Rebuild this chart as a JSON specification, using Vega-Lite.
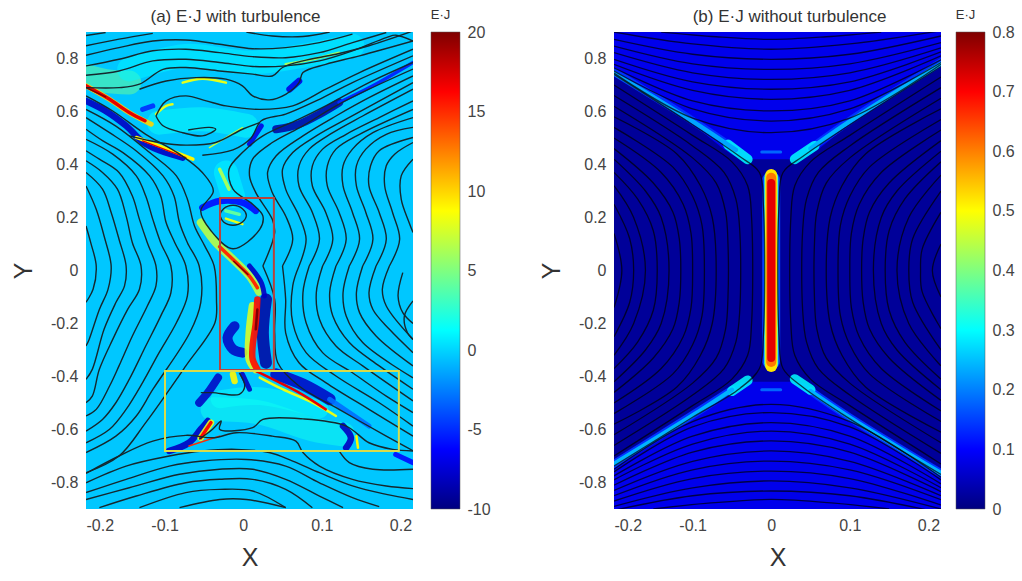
{"$schema":"https://vega.github.io/schema/vega-lite/v6.json","background":"white","padding":{"left":11,"top":8,"right":0,"bottom":0},"config":{"font":"Liberation Sans","view":{"stroke":null}},"resolve":{"scale":{"color":"independent"}},"spacing":48,
"datasets":{
"abg":[{"x":-0.2,"x2":0.216,"y":-0.9,"y2":0.9,"v":-0.4}],
"bbg":[{"x":-0.2,"x2":0.216,"y":-0.9,"y2":0.9,"v":0.02}],
"bareas":[{"r":"t","v":0.085,"x":-0.2,"y":0.74,"y2":0.9},{"r":"t","v":0.085,"x":-0.1,"y":0.55,"y2":0.9},{"r":"t","v":0.085,"x":-0.03,"y":0.42,"y2":0.9},{"r":"t","v":0.085,"x":0.03,"y":0.42,"y2":0.9},{"r":"t","v":0.085,"x":0.1,"y":0.55,"y2":0.9},{"r":"t","v":0.085,"x":0.216,"y":0.77,"y2":0.9},{"r":"b","v":0.085,"x":-0.2,"y":-0.74,"y2":-0.9},{"r":"b","v":0.085,"x":-0.1,"y":-0.55,"y2":-0.9},{"r":"b","v":0.085,"x":-0.03,"y":-0.42,"y2":-0.9},{"r":"b","v":0.085,"x":0.03,"y":-0.42,"y2":-0.9},{"r":"b","v":0.085,"x":0.1,"y":-0.55,"y2":-0.9},{"r":"b","v":0.085,"x":0.216,"y":-0.77,"y2":-0.9}],
"boxes":[{"c":"red","x":-0.0295,"x2":0.039,"y":-0.375,"y2":0.274},{"c":"yellow","x":-0.0995,"x2":0.198,"y":-0.681,"y2":-0.379}],
"aglow":[
{"s":1,"w":12,"v":4.5,"x":-0.2,"y":0.734},{"s":1,"w":12,"v":4.5,"x":-0.175,"y":0.715},{"s":1,"w":12,"v":4.5,"x":-0.145,"y":0.709},
{"s":2,"w":12,"v":1.5,"x":-0.107,"y":0.558},{"s":2,"w":12,"v":1.5,"x":-0.052,"y":0.571},{"s":2,"w":12,"v":1.5,"x":0.004,"y":0.546},
{"s":3,"w":12,"v":1.8,"x":-0.039,"y":-0.524},{"s":3,"w":12,"v":1.8,"x":0.021,"y":-0.536},{"s":3,"w":12,"v":1.8,"x":0.088,"y":-0.599},{"s":3,"w":12,"v":1.8,"x":0.127,"y":-0.618},
{"s":4,"w":11,"v":1.5,"x":-0.03,"y":-0.486},{"s":4,"w":11,"v":1.5,"x":0.021,"y":-0.474},{"s":4,"w":11,"v":1.5,"x":0.097,"y":-0.524},
{"s":5,"w":12,"v":1,"x":-0.145,"y":0.759},{"s":5,"w":12,"v":1,"x":-0.073,"y":0.81},{"s":5,"w":12,"v":1,"x":0.012,"y":0.785},{"s":5,"w":12,"v":1,"x":0.139,"y":0.848},
{"s":6,"w":12,"v":1.2,"x":-0.022,"y":0.37},{"s":6,"w":12,"v":1.2,"x":-0.013,"y":0.281},
{"s":7,"w":5,"v":-8,"x":-0.2,"y":0.64},{"s":7,"w":5,"v":-8,"x":-0.175,"y":0.602},{"s":7,"w":5,"v":-8,"x":-0.149,"y":0.546},{"s":7,"w":5,"v":-8,"x":-0.124,"y":0.477},{"s":7,"w":5,"v":-8,"x":-0.077,"y":0.426},
{"s":8,"w":6,"v":-9,"x":0.042,"y":0.533},{"s":8,"w":6,"v":-9,"x":0.071,"y":0.552},{"s":8,"w":6,"v":-9,"x":0.097,"y":0.59},{"s":8,"w":6,"v":-9,"x":0.122,"y":0.634},
{"s":9,"w":3,"v":-5,"x":0.122,"y":0.634},{"s":9,"w":3,"v":-5,"x":0.165,"y":0.697},{"s":9,"w":3,"v":-5,"x":0.216,"y":0.785},
{"s":10,"w":5,"v":-7,"x":0.059,"y":0.684},{"s":10,"w":5,"v":-7,"x":0.071,"y":0.715},
{"s":11,"w":4,"v":-7,"x":0.008,"y":0.477},{"s":11,"w":4,"v":-7,"x":0.023,"y":0.546},
{"s":12,"w":4,"v":-5,"x":-0.128,"y":0.608},{"s":12,"w":4,"v":-5,"x":-0.115,"y":0.621},
{"s":13,"w":5,"v":-6,"x":-0.052,"y":0.237},{"s":13,"w":5,"v":-6,"x":-0.03,"y":0.262},{"s":13,"w":5,"v":-6,"x":-0.001,"y":0.256},{"s":13,"w":5,"v":-6,"x":0.016,"y":0.225},
{"s":14,"w":4,"v":-8,"x":0.008,"y":0.017},{"s":14,"w":4,"v":-8,"x":0.023,"y":-0.046},{"s":14,"w":4,"v":-8,"x":0.027,"y":-0.096},
{"s":15,"w":6,"v":7,"x":-0.054,"y":0.181},{"s":15,"w":6,"v":7,"x":-0.035,"y":0.105},{"s":15,"w":6,"v":7,"x":-0.013,"y":0.042},{"s":15,"w":6,"v":7,"x":0.008,"y":-0.021},{"s":15,"w":6,"v":7,"x":0.02,"y":-0.08},
{"s":16,"w":3,"v":15,"x":-0.03,"y":0.09},{"s":16,"w":3,"v":15,"x":-0.009,"y":0.03},{"s":16,"w":3,"v":15,"x":0.008,"y":-0.021},{"s":16,"w":3,"v":15,"x":0.018,"y":-0.065},
{"s":17,"w":1,"v":20,"x":-0.012,"y":0.035},{"s":17,"w":1,"v":20,"x":0.006,"y":-0.015},
{"s":18,"w":8,"v":-9,"x":0.029,"y":-0.109},{"s":18,"w":8,"v":-9,"x":0.025,"y":-0.235},{"s":18,"w":8,"v":-9,"x":0.029,"y":-0.348},
{"s":19,"w":6,"v":8,"x":0.012,"y":-0.134},{"s":19,"w":6,"v":8,"x":0.008,"y":-0.235},{"s":19,"w":6,"v":8,"x":0.008,"y":-0.335},{"s":19,"w":6,"v":8,"x":0.016,"y":-0.373},
{"s":20,"w":5,"v":16,"x":0.018,"y":-0.109},{"s":20,"w":5,"v":16,"x":0.016,"y":-0.197},{"s":20,"w":5,"v":16,"x":0.012,"y":-0.285},{"s":20,"w":5,"v":16,"x":0.012,"y":-0.335},{"s":20,"w":5,"v":16,"x":0.018,"y":-0.373},
{"s":21,"w":2,"v":20,"x":0.018,"y":-0.147},{"s":21,"w":2,"v":20,"x":0.016,"y":-0.222},
{"s":22,"w":7,"v":-8,"x":-0.011,"y":-0.21},{"s":22,"w":7,"v":-8,"x":-0.02,"y":-0.254},{"s":22,"w":7,"v":-8,"x":-0.013,"y":-0.297},{"s":22,"w":7,"v":-8,"x":-0.001,"y":-0.31},
{"s":23,"w":8,"v":-8,"x":0.042,"y":-0.392},{"s":23,"w":8,"v":-8,"x":0.076,"y":-0.43},{"s":23,"w":8,"v":-8,"x":0.11,"y":-0.486},
{"s":24,"w":4,"v":-3,"x":0.11,"y":-0.486},{"s":24,"w":4,"v":-3,"x":0.16,"y":-0.587},
{"s":25,"w":2,"v":8,"x":0.021,"y":-0.404},{"s":25,"w":2,"v":8,"x":0.05,"y":-0.448},{"s":25,"w":2,"v":8,"x":0.088,"y":-0.499},{"s":25,"w":2,"v":8,"x":0.118,"y":-0.549},
{"s":26,"w":2,"v":17,"x":0.016,"y":-0.379},{"s":26,"w":2,"v":17,"x":0.042,"y":-0.417},{"s":26,"w":2,"v":17,"x":0.071,"y":-0.461},{"s":26,"w":2,"v":17,"x":0.105,"y":-0.524},
{"s":27,"w":6,"v":-8,"x":-0.056,"y":-0.499},{"s":27,"w":6,"v":-8,"x":-0.045,"y":-0.461},{"s":27,"w":6,"v":-8,"x":-0.032,"y":-0.404},
{"s":28,"w":5,"v":9,"x":-0.013,"y":-0.392},{"s":28,"w":5,"v":9,"x":-0.011,"y":-0.417},
{"s":29,"w":4,"v":-8,"x":-0.001,"y":-0.392},{"s":29,"w":4,"v":-8,"x":0.008,"y":-0.448},
{"s":30,"w":5,"v":-8,"x":-0.094,"y":-0.681},{"s":30,"w":5,"v":-8,"x":-0.069,"y":-0.65},{"s":30,"w":5,"v":-8,"x":-0.054,"y":-0.599},{"s":30,"w":5,"v":-8,"x":-0.045,"y":-0.568},
{"s":31,"w":5,"v":8,"x":-0.054,"y":-0.631},{"s":31,"w":5,"v":8,"x":-0.041,"y":-0.574},
{"s":32,"w":3,"v":16,"x":-0.054,"y":-0.631},{"s":32,"w":3,"v":16,"x":-0.041,"y":-0.574},
{"s":33,"w":1,"v":15,"x":-0.069,"y":-0.662},{"s":33,"w":1,"v":15,"x":-0.03,"y":-0.625},
{"s":34,"w":5,"v":-8,"x":0.127,"y":-0.587},{"s":34,"w":5,"v":-8,"x":0.137,"y":-0.631},{"s":34,"w":5,"v":-8,"x":0.131,"y":-0.669},
{"s":35,"w":2,"v":9,"x":0.144,"y":-0.625},{"s":35,"w":2,"v":9,"x":0.146,"y":-0.669},
{"s":36,"w":4,"v":-6,"x":0.216,"y":-0.725},{"s":36,"w":4,"v":-6,"x":0.194,"y":-0.694},
{"s":37,"w":2,"v":8,"x":-0.077,"y":0.709},{"s":37,"w":2,"v":8,"x":-0.052,"y":0.724},{"s":37,"w":2,"v":8,"x":-0.022,"y":0.709},
{"s":38,"w":2,"v":6,"x":0.054,"y":0.778},{"s":38,"w":2,"v":6,"x":0.088,"y":0.797},{"s":38,"w":2,"v":6,"x":0.122,"y":0.822},
{"s":39,"w":3,"v":9,"x":-0.136,"y":0.502},{"s":39,"w":3,"v":9,"x":-0.107,"y":0.47},{"s":39,"w":3,"v":9,"x":-0.064,"y":0.42},
{"s":40,"w":1,"v":17,"x":-0.128,"y":0.489},{"s":40,"w":1,"v":17,"x":-0.073,"y":0.426},
{"s":41,"w":4,"v":10,"x":-0.2,"y":0.697},{"s":41,"w":4,"v":10,"x":-0.17,"y":0.646},{"s":41,"w":4,"v":10,"x":-0.145,"y":0.596},{"s":41,"w":4,"v":10,"x":-0.117,"y":0.552},
{"s":42,"w":3,"v":17,"x":-0.2,"y":0.697},{"s":42,"w":3,"v":17,"x":-0.17,"y":0.646},{"s":42,"w":3,"v":17,"x":-0.145,"y":0.596},{"s":42,"w":3,"v":17,"x":-0.125,"y":0.565},
{"s":43,"w":1,"v":20,"x":-0.2,"y":0.69},{"s":43,"w":1,"v":20,"x":-0.175,"y":0.655},
{"s":44,"w":2,"v":8,"x":-0.111,"y":0.59},{"s":44,"w":2,"v":8,"x":-0.098,"y":0.621},{"s":44,"w":2,"v":8,"x":-0.09,"y":0.627},
{"s":45,"w":1,"v":7,"x":-0.043,"y":0.464},{"s":45,"w":1,"v":7,"x":-0.001,"y":0.539},
{"s":46,"w":3,"v":6,"x":-0.03,"y":0.382},{"s":46,"w":3,"v":6,"x":-0.018,"y":0.307},
{"s":47,"w":3,"v":4,"x":-0.022,"y":0.225},{"s":47,"w":3,"v":4,"x":-0.005,"y":0.212},
{"s":48,"w":2,"v":8,"x":-0.022,"y":0.196},{"s":48,"w":2,"v":8,"x":-0.001,"y":0.175}],
"bglow":[
{"s":1,"w":11,"v":0.15,"x":0,"y":0.34},{"s":1,"w":11,"v":0.15,"x":0,"y":-0.34},
{"s":2,"w":9,"v":0.35,"x":0,"y":0.35},{"s":2,"w":9,"v":0.35,"x":0,"y":-0.35},
{"s":3,"w":8,"v":0.52,"x":0,"y":0.36},{"s":3,"w":8,"v":0.52,"x":0,"y":-0.36},
{"s":4,"w":7,"v":0.62,"x":0,"y":0.35},{"s":4,"w":7,"v":0.62,"x":0,"y":-0.345},
{"s":5,"w":6,"v":0.72,"x":0,"y":0.33},{"s":5,"w":6,"v":0.72,"x":0,"y":-0.33},
{"s":6,"w":5,"v":0.14,"x":-0.2,"y":0.75},{"s":6,"w":5,"v":0.14,"x":-0.1,"y":0.565},{"s":6,"w":5,"v":0.14,"x":-0.045,"y":0.455},
{"s":7,"w":3,"v":0.23,"x":-0.2,"y":0.745},{"s":7,"w":3,"v":0.23,"x":-0.1,"y":0.563},{"s":7,"w":3,"v":0.23,"x":-0.045,"y":0.455},
{"s":8,"w":5,"v":0.14,"x":0.216,"y":0.785},{"s":8,"w":5,"v":0.14,"x":0.1,"y":0.565},{"s":8,"w":5,"v":0.14,"x":0.05,"y":0.46},
{"s":9,"w":3,"v":0.24,"x":0.216,"y":0.78},{"s":9,"w":3,"v":0.24,"x":0.1,"y":0.563},{"s":9,"w":3,"v":0.24,"x":0.05,"y":0.46},
{"s":10,"w":7,"v":0.3,"x":-0.055,"y":0.475},{"s":10,"w":7,"v":0.3,"x":-0.03,"y":0.42},
{"s":11,"w":7,"v":0.3,"x":0.055,"y":0.47},{"s":11,"w":7,"v":0.3,"x":0.03,"y":0.42},
{"s":12,"w":5,"v":0.14,"x":-0.2,"y":-0.73},{"s":12,"w":5,"v":0.14,"x":-0.1,"y":-0.545},{"s":12,"w":5,"v":0.14,"x":-0.05,"y":-0.45},
{"s":13,"w":3,"v":0.24,"x":-0.2,"y":-0.73},{"s":13,"w":3,"v":0.24,"x":-0.1,"y":-0.547},{"s":13,"w":3,"v":0.24,"x":-0.05,"y":-0.45},
{"s":14,"w":5,"v":0.14,"x":0.216,"y":-0.765},{"s":14,"w":5,"v":0.14,"x":0.1,"y":-0.555},{"s":14,"w":5,"v":0.14,"x":0.05,"y":-0.455},
{"s":15,"w":3,"v":0.24,"x":0.216,"y":-0.765},{"s":15,"w":3,"v":0.24,"x":0.1,"y":-0.555},{"s":15,"w":3,"v":0.24,"x":0.05,"y":-0.455},
{"s":16,"w":7,"v":0.3,"x":-0.05,"y":-0.455},{"s":16,"w":7,"v":0.3,"x":-0.03,"y":-0.415},
{"s":17,"w":7,"v":0.3,"x":0.05,"y":-0.45},{"s":17,"w":7,"v":0.3,"x":0.03,"y":-0.41},
{"s":18,"w":2,"v":0.18,"x":-0.012,"y":0.447},{"s":18,"w":2,"v":0.18,"x":0.012,"y":0.447},
{"s":19,"w":2,"v":0.18,"x":-0.012,"y":-0.45},{"s":19,"w":2,"v":0.18,"x":0.012,"y":-0.45}],
"alines":[
{"l":1,"x":-0.2,"y":0.887},{"l":1,"x":-0.175,"y":0.898},
{"l":2,"x":-0.2,"y":0.848},{"l":2,"x":-0.158,"y":0.873},{"l":2,"x":-0.115,"y":0.895},
{"l":3,"x":-0.2,"y":0.812},{"l":3,"x":-0.158,"y":0.841},{"l":3,"x":-0.115,"y":0.866},{"l":3,"x":-0.073,"y":0.87},{"l":3,"x":-0.03,"y":0.854},{"l":3,"x":0.012,"y":0.837},{"l":3,"x":0.054,"y":0.841},{"l":3,"x":0.097,"y":0.86},{"l":3,"x":0.139,"y":0.892},
{"l":4,"x":-0.2,"y":0.772},{"l":4,"x":-0.158,"y":0.797},{"l":4,"x":-0.115,"y":0.829},{"l":4,"x":-0.073,"y":0.835},{"l":4,"x":-0.03,"y":0.822},{"l":4,"x":0.012,"y":0.807},{"l":4,"x":0.054,"y":0.803},{"l":4,"x":0.097,"y":0.822},{"l":4,"x":0.139,"y":0.86},{"l":4,"x":0.182,"y":0.898},
{"l":5,"x":-0.2,"y":0.737},{"l":5,"x":-0.158,"y":0.753},{"l":5,"x":-0.115,"y":0.791},{"l":5,"x":-0.073,"y":0.797},{"l":5,"x":-0.03,"y":0.785},{"l":5,"x":0.012,"y":0.77},{"l":5,"x":0.054,"y":0.772},{"l":5,"x":0.097,"y":0.791},{"l":5,"x":0.139,"y":0.829},{"l":5,"x":0.182,"y":0.879},{"l":5,"x":0.194,"y":0.888},{"l":5,"x":0.216,"y":0.866},
{"l":6,"x":-0.2,"y":0.69},{"l":6,"x":-0.158,"y":0.69},{"l":6,"x":-0.132,"y":0.703},{"l":6,"x":-0.102,"y":0.759},{"l":6,"x":-0.073,"y":0.766},{"l":6,"x":-0.03,"y":0.753},{"l":6,"x":0.012,"y":0.741},{"l":6,"x":0.037,"y":0.734},{"l":6,"x":0.05,"y":0.766},{"l":6,"x":0.076,"y":0.791},{"l":6,"x":0.118,"y":0.816},{"l":6,"x":0.16,"y":0.848},{"l":6,"x":0.216,"y":0.904},
{"l":7,"x":0.004,"y":0.9},{"l":7,"x":0.037,"y":0.885},{"l":7,"x":0.076,"y":0.883},{"l":7,"x":0.11,"y":0.9},
{"l":8,"x":-0.132,"y":0.684},{"l":8,"x":-0.098,"y":0.715},{"l":8,"x":-0.06,"y":0.728},{"l":8,"x":-0.022,"y":0.722},{"l":8,"x":-0.001,"y":0.697},{"l":8,"x":0.012,"y":0.659},{"l":8,"x":0.033,"y":0.644},{"l":8,"x":0.054,"y":0.665},{"l":8,"x":0.071,"y":0.709},{"l":8,"x":0.076,"y":0.747},{"l":8,"x":0.105,"y":0.778},{"l":8,"x":0.148,"y":0.81},{"l":8,"x":0.216,"y":0.866},
{"l":9,"x":-0.111,"y":0.583},{"l":9,"x":-0.098,"y":0.64},{"l":9,"x":-0.073,"y":0.659},{"l":9,"x":-0.047,"y":0.64},{"l":9,"x":-0.022,"y":0.621},{"l":9,"x":0.021,"y":0.608},{"l":9,"x":0.063,"y":0.621},{"l":9,"x":0.105,"y":0.684},{"l":9,"x":0.148,"y":0.747},{"l":9,"x":0.216,"y":0.835},
{"l":10,"x":-0.111,"y":0.583},{"l":10,"x":-0.102,"y":0.546},{"l":10,"x":-0.077,"y":0.52},{"l":10,"x":-0.052,"y":0.508},{"l":10,"x":-0.035,"y":0.533},{"l":10,"x":-0.043,"y":0.54},{"l":10,"x":-0.07,"y":0.53},
{"l":11,"x":-0.052,"y":0.435},{"l":11,"x":-0.013,"y":0.455},{"l":11,"x":0.01,"y":0.5},{"l":11,"x":0.023,"y":0.565},{"l":11,"x":0.054,"y":0.59},{"l":11,"x":0.097,"y":0.646},{"l":11,"x":0.139,"y":0.709},{"l":11,"x":0.216,"y":0.81},
{"l":12,"x":-0.145,"y":0.508},{"l":12,"x":-0.107,"y":0.483},{"l":12,"x":-0.073,"y":0.473},{"l":12,"x":-0.035,"y":0.483},{"l":12,"x":-0.001,"y":0.533},{"l":12,"x":0.021,"y":0.558},
{"l":13,"x":-0.2,"y":0.659},{"l":13,"x":-0.166,"y":0.602},{"l":13,"x":-0.124,"y":0.514},{"l":13,"x":-0.081,"y":0.439},{"l":13,"x":-0.052,"y":0.37},{"l":13,"x":-0.038,"y":0.3},{"l":13,"x":-0.054,"y":0.225},{"l":13,"x":-0.041,"y":0.15},{"l":13,"x":-0.013,"y":0.082},{"l":13,"x":0.021,"y":0.155},{"l":13,"x":0.025,"y":0.206},{"l":13,"x":0.012,"y":0.25},{"l":13,"x":-0.013,"y":0.307},{"l":13,"x":-0.018,"y":0.382},{"l":13,"x":-0.001,"y":0.445},{"l":13,"x":0.025,"y":0.508},{"l":13,"x":0.071,"y":0.571},{"l":13,"x":0.105,"y":0.621},{"l":13,"x":0.16,"y":0.709},{"l":13,"x":0.216,"y":0.785},
{"l":14,"x":-0.03,"y":0.209},{"l":14,"x":-0.025,"y":0.233},{"l":14,"x":-0.013,"y":0.246},{"l":14,"x":-0.001,"y":0.233},{"l":14,"x":0.004,"y":0.209},{"l":14,"x":-0.001,"y":0.183},{"l":14,"x":-0.013,"y":0.171},{"l":14,"x":-0.025,"y":0.183},{"l":14,"x":-0.03,"y":0.209},
{"l":15,"x":-0.2,"y":0.608},{"l":15,"x":-0.162,"y":0.545},{"l":15,"x":-0.119,"y":0.445},{"l":15,"x":-0.085,"y":0.357},{"l":15,"x":-0.071,"y":0.269},{"l":15,"x":-0.062,"y":0.168},{"l":15,"x":-0.049,"y":0.093},{"l":15,"x":-0.037,"y":0.017},{"l":15,"x":-0.034,"y":-0.109},{"l":15,"x":-0.036,"y":-0.197},{"l":15,"x":-0.073,"y":-0.36},{"l":15,"x":-0.124,"y":-0.574},{"l":15,"x":-0.158,"y":-0.7},{"l":15,"x":-0.2,"y":-0.763},
{"l":16,"x":-0.2,"y":0.577},{"l":16,"x":-0.17,"y":0.52},{"l":16,"x":-0.136,"y":0.451},{"l":16,"x":-0.102,"y":0.357},{"l":16,"x":-0.088,"y":0.281},{"l":16,"x":-0.081,"y":0.18},{"l":16,"x":-0.071,"y":0.105},{"l":16,"x":-0.056,"y":0.017},{"l":16,"x":-0.054,"y":-0.121},{"l":16,"x":-0.068,"y":-0.235},{"l":16,"x":-0.115,"y":-0.449},{"l":16,"x":-0.136,"y":-0.549},{"l":16,"x":-0.162,"y":-0.625},{"l":16,"x":-0.2,"y":-0.687},
{"l":17,"x":-0.2,"y":0.533},{"l":17,"x":-0.179,"y":0.49},{"l":17,"x":-0.153,"y":0.445},{"l":17,"x":-0.119,"y":0.357},{"l":17,"x":-0.105,"y":0.281},{"l":17,"x":-0.098,"y":0.18},{"l":17,"x":-0.087,"y":0.105},{"l":17,"x":-0.073,"y":0.017},{"l":17,"x":-0.071,"y":-0.096},{"l":17,"x":-0.085,"y":-0.197},{"l":17,"x":-0.107,"y":-0.31},{"l":17,"x":-0.128,"y":-0.423},{"l":17,"x":-0.149,"y":-0.524},{"l":17,"x":-0.17,"y":-0.599},{"l":17,"x":-0.2,"y":-0.65},
{"l":18,"x":-0.2,"y":0.495},{"l":18,"x":-0.166,"y":0.439},{"l":18,"x":-0.136,"y":0.357},{"l":18,"x":-0.124,"y":0.281},{"l":18,"x":-0.115,"y":0.193},{"l":18,"x":-0.105,"y":0.105},{"l":18,"x":-0.092,"y":0.017},{"l":18,"x":-0.092,"y":-0.084},{"l":18,"x":-0.105,"y":-0.172},{"l":18,"x":-0.124,"y":-0.285},{"l":18,"x":-0.145,"y":-0.411},{"l":18,"x":-0.162,"y":-0.499},{"l":18,"x":-0.179,"y":-0.562},{"l":18,"x":-0.2,"y":-0.606},
{"l":19,"x":-0.2,"y":0.452},{"l":19,"x":-0.183,"y":0.42},{"l":19,"x":-0.158,"y":0.37},{"l":19,"x":-0.141,"y":0.281},{"l":19,"x":-0.132,"y":0.193},{"l":19,"x":-0.122,"y":0.105},{"l":19,"x":-0.111,"y":0.017},{"l":19,"x":-0.111,"y":-0.058},{"l":19,"x":-0.122,"y":-0.134},{"l":19,"x":-0.141,"y":-0.247},{"l":19,"x":-0.158,"y":-0.36},{"l":19,"x":-0.17,"y":-0.436},{"l":19,"x":-0.187,"y":-0.524},{"l":19,"x":-0.2,"y":-0.549},
{"l":20,"x":-0.2,"y":0.414},{"l":20,"x":-0.179,"y":0.37},{"l":20,"x":-0.16,"y":0.307},{"l":20,"x":-0.149,"y":0.206},{"l":20,"x":-0.141,"y":0.105},{"l":20,"x":-0.13,"y":0.017},{"l":20,"x":-0.132,"y":-0.071},{"l":20,"x":-0.147,"y":-0.147},{"l":20,"x":-0.166,"y":-0.26},{"l":20,"x":-0.183,"y":-0.373},{"l":20,"x":-0.192,"y":-0.474},{"l":20,"x":-0.2,"y":-0.499},
{"l":21,"x":-0.2,"y":0.37},{"l":21,"x":-0.179,"y":0.307},{"l":21,"x":-0.168,"y":0.219},{"l":21,"x":-0.158,"y":0.118},{"l":21,"x":-0.149,"y":0.017},{"l":21,"x":-0.151,"y":-0.058},{"l":21,"x":-0.162,"y":-0.121},{"l":21,"x":-0.177,"y":-0.222},{"l":21,"x":-0.192,"y":-0.373},{"l":21,"x":-0.2,"y":-0.411},
{"l":22,"x":-0.2,"y":0.319},{"l":22,"x":-0.187,"y":0.231},{"l":22,"x":-0.177,"y":0.13},{"l":22,"x":-0.168,"y":0.017},{"l":22,"x":-0.172,"y":-0.071},{"l":22,"x":-0.183,"y":-0.147},{"l":22,"x":-0.196,"y":-0.26},{"l":22,"x":-0.2,"y":-0.285},
{"l":23,"x":-0.2,"y":0.168},{"l":23,"x":-0.194,"y":0.105},{"l":23,"x":-0.187,"y":0.017},{"l":23,"x":-0.191,"y":-0.071},{"l":23,"x":-0.2,"y":-0.12},
{"l":24,"x":-0.2,"y":-0.766},{"l":24,"x":-0.158,"y":-0.7},{"l":24,"x":-0.115,"y":-0.644},{"l":24,"x":-0.073,"y":-0.622},{"l":24,"x":-0.037,"y":-0.631},{"l":24,"x":-0.009,"y":-0.612},{"l":24,"x":0.037,"y":-0.625},{"l":24,"x":0.067,"y":-0.644},{"l":24,"x":0.076,"y":-0.687},{"l":24,"x":0.097,"y":-0.738},{"l":24,"x":0.139,"y":-0.788},{"l":24,"x":0.182,"y":-0.813},{"l":24,"x":0.216,"y":-0.823},
{"l":25,"x":-0.2,"y":-0.801},{"l":25,"x":-0.149,"y":-0.738},{"l":25,"x":-0.094,"y":-0.7},{"l":25,"x":-0.052,"y":-0.681},{"l":25,"x":-0.009,"y":-0.675},{"l":25,"x":0.033,"y":-0.687},{"l":25,"x":0.063,"y":-0.719},{"l":25,"x":0.097,"y":-0.763},{"l":25,"x":0.139,"y":-0.813},{"l":25,"x":0.182,"y":-0.845},{"l":25,"x":0.216,"y":-0.864},
{"l":26,"x":-0.2,"y":-0.838},{"l":26,"x":-0.149,"y":-0.788},{"l":26,"x":-0.094,"y":-0.738},{"l":26,"x":-0.052,"y":-0.719},{"l":26,"x":0.004,"y":-0.713},{"l":26,"x":0.054,"y":-0.738},{"l":26,"x":0.097,"y":-0.801},{"l":26,"x":0.139,"y":-0.857},{"l":26,"x":0.173,"y":-0.891},
{"l":27,"x":-0.2,"y":-0.864},{"l":27,"x":-0.145,"y":-0.82},{"l":27,"x":-0.081,"y":-0.769},{"l":27,"x":-0.03,"y":-0.75},{"l":27,"x":0.012,"y":-0.75},{"l":27,"x":0.054,"y":-0.788},{"l":27,"x":0.097,"y":-0.851},{"l":27,"x":0.127,"y":-0.895},
{"l":28,"x":-0.183,"y":-0.895},{"l":28,"x":-0.136,"y":-0.851},{"l":28,"x":-0.073,"y":-0.801},{"l":28,"x":-0.03,"y":-0.788},{"l":28,"x":0.012,"y":-0.788},{"l":28,"x":0.054,"y":-0.826},{"l":28,"x":0.088,"y":-0.895},
{"l":29,"x":-0.132,"y":-0.895},{"l":29,"x":-0.073,"y":-0.838},{"l":29,"x":-0.03,"y":-0.826},{"l":29,"x":0.012,"y":-0.832},{"l":29,"x":0.054,"y":-0.895},
{"l":30,"x":-0.081,"y":-0.895},{"l":30,"x":-0.03,"y":-0.864},{"l":30,"x":0.004,"y":-0.864},{"l":30,"x":0.054,"y":-0.895},
{"l":31,"x":0.122,"y":-0.681},{"l":31,"x":0.135,"y":-0.725},{"l":31,"x":0.165,"y":-0.75},{"l":31,"x":0.216,"y":-0.75},
{"l":32,"x":-0.056,"y":-0.637},{"l":32,"x":-0.039,"y":-0.599},{"l":32,"x":-0.028,"y":-0.568},{"l":32,"x":-0.03,"y":-0.599},{"l":32,"x":0.012,"y":-0.593},{"l":32,"x":0.025,"y":-0.562},{"l":32,"x":0.076,"y":-0.56},{"l":32,"x":0.131,"y":-0.587},{"l":32,"x":0.16,"y":-0.65},{"l":32,"x":0.19,"y":-0.675},{"l":32,"x":0.216,"y":-0.681},
{"l":33,"x":-0.054,"y":-0.461},{"l":33,"x":-0.039,"y":-0.461},{"l":33,"x":-0.005,"y":-0.467},{"l":33,"x":0.002,"y":-0.436},{"l":33,"x":-0.005,"y":-0.386},
{"l":34,"x":0.025,"y":0.017},{"l":34,"x":0.04,"y":0.143},{"l":34,"x":0.037,"y":0.193},{"l":34,"x":0.016,"y":0.294},{"l":34,"x":0.008,"y":0.357},{"l":34,"x":0.012,"y":0.42},{"l":34,"x":0.037,"y":0.483},{"l":34,"x":0.076,"y":0.546},{"l":34,"x":0.118,"y":0.621},{"l":34,"x":0.16,"y":0.684},{"l":34,"x":0.216,"y":0.76},
{"l":35,"x":0.025,"y":0.017},{"l":35,"x":0.04,"y":-0.109},{"l":35,"x":0.04,"y":-0.235},{"l":35,"x":0.044,"y":-0.348},{"l":35,"x":0.071,"y":-0.436},{"l":35,"x":0.122,"y":-0.524},{"l":35,"x":0.182,"y":-0.625},{"l":35,"x":0.216,"y":-0.68},
{"l":36,"x":0.05,"y":0.017},{"l":36,"x":0.063,"y":0.118},{"l":36,"x":0.054,"y":0.206},{"l":36,"x":0.037,"y":0.294},{"l":36,"x":0.031,"y":0.37},{"l":36,"x":0.042,"y":0.433},{"l":36,"x":0.076,"y":0.508},{"l":36,"x":0.118,"y":0.583},{"l":36,"x":0.16,"y":0.652},{"l":36,"x":0.216,"y":0.734},
{"l":37,"x":0.05,"y":0.017},{"l":37,"x":0.054,"y":-0.109},{"l":37,"x":0.054,"y":-0.235},{"l":37,"x":0.071,"y":-0.348},{"l":37,"x":0.105,"y":-0.423},{"l":37,"x":0.16,"y":-0.524},{"l":37,"x":0.216,"y":-0.625},
{"l":38,"x":0.071,"y":0.017},{"l":38,"x":0.08,"y":0.118},{"l":38,"x":0.071,"y":0.206},{"l":38,"x":0.054,"y":0.307},{"l":38,"x":0.05,"y":0.382},{"l":38,"x":0.063,"y":0.445},{"l":38,"x":0.093,"y":0.508},{"l":38,"x":0.131,"y":0.571},{"l":38,"x":0.216,"y":0.709},
{"l":39,"x":0.071,"y":0.017},{"l":39,"x":0.063,"y":-0.058},{"l":39,"x":0.063,"y":-0.197},{"l":39,"x":0.08,"y":-0.31},{"l":39,"x":0.118,"y":-0.398},{"l":39,"x":0.173,"y":-0.499},{"l":39,"x":0.216,"y":-0.587},
{"l":40,"x":0.084,"y":0.017},{"l":40,"x":0.097,"y":0.118},{"l":40,"x":0.088,"y":0.219},{"l":40,"x":0.071,"y":0.319},{"l":40,"x":0.071,"y":0.395},{"l":40,"x":0.084,"y":0.458},{"l":40,"x":0.114,"y":0.52},{"l":40,"x":0.152,"y":0.583},{"l":40,"x":0.216,"y":0.684},
{"l":41,"x":0.084,"y":0.017},{"l":41,"x":0.076,"y":-0.084},{"l":41,"x":0.08,"y":-0.197},{"l":41,"x":0.101,"y":-0.31},{"l":41,"x":0.139,"y":-0.386},{"l":41,"x":0.182,"y":-0.474},{"l":41,"x":0.216,"y":-0.536},
{"l":42,"x":0.101,"y":0.017},{"l":42,"x":0.114,"y":0.118},{"l":42,"x":0.105,"y":0.219},{"l":42,"x":0.088,"y":0.319},{"l":42,"x":0.088,"y":0.395},{"l":42,"x":0.101,"y":0.458},{"l":42,"x":0.131,"y":0.514},{"l":42,"x":0.173,"y":0.577},{"l":42,"x":0.216,"y":0.64},
{"l":43,"x":0.101,"y":0.017},{"l":43,"x":0.093,"y":-0.084},{"l":43,"x":0.097,"y":-0.184},{"l":43,"x":0.118,"y":-0.285},{"l":43,"x":0.152,"y":-0.36},{"l":43,"x":0.216,"y":-0.492},
{"l":44,"x":0.118,"y":0.017},{"l":44,"x":0.131,"y":0.118},{"l":44,"x":0.122,"y":0.219},{"l":44,"x":0.107,"y":0.319},{"l":44,"x":0.107,"y":0.395},{"l":44,"x":0.118,"y":0.458},{"l":44,"x":0.148,"y":0.514},{"l":44,"x":0.216,"y":0.608},
{"l":45,"x":0.118,"y":0.017},{"l":45,"x":0.11,"y":-0.084},{"l":45,"x":0.114,"y":-0.172},{"l":45,"x":0.135,"y":-0.272},{"l":45,"x":0.173,"y":-0.36},{"l":45,"x":0.216,"y":-0.448},
{"l":46,"x":0.135,"y":0.017},{"l":46,"x":0.148,"y":0.118},{"l":46,"x":0.139,"y":0.219},{"l":46,"x":0.127,"y":0.319},{"l":46,"x":0.127,"y":0.395},{"l":46,"x":0.139,"y":0.458},{"l":46,"x":0.165,"y":0.52},{"l":46,"x":0.216,"y":0.577},
{"l":47,"x":0.135,"y":0.017},{"l":47,"x":0.127,"y":-0.084},{"l":47,"x":0.131,"y":-0.172},{"l":47,"x":0.152,"y":-0.272},{"l":47,"x":0.216,"y":-0.405},
{"l":48,"x":0.152,"y":0.017},{"l":48,"x":0.165,"y":0.118},{"l":48,"x":0.156,"y":0.219},{"l":48,"x":0.144,"y":0.319},{"l":48,"x":0.144,"y":0.395},{"l":48,"x":0.156,"y":0.458},{"l":48,"x":0.182,"y":0.514},{"l":48,"x":0.216,"y":0.54},
{"l":49,"x":0.152,"y":0.017},{"l":49,"x":0.144,"y":-0.084},{"l":49,"x":0.148,"y":-0.159},{"l":49,"x":0.169,"y":-0.247},{"l":49,"x":0.216,"y":-0.36},
{"l":50,"x":0.169,"y":0.017},{"l":50,"x":0.182,"y":0.118},{"l":50,"x":0.173,"y":0.219},{"l":50,"x":0.16,"y":0.319},{"l":50,"x":0.162,"y":0.395},{"l":50,"x":0.173,"y":0.452},{"l":50,"x":0.216,"y":0.502},
{"l":51,"x":0.169,"y":0.017},{"l":51,"x":0.16,"y":-0.084},{"l":51,"x":0.165,"y":-0.147},{"l":51,"x":0.186,"y":-0.222},{"l":51,"x":0.216,"y":-0.31},
{"l":52,"x":0.186,"y":0.017},{"l":52,"x":0.199,"y":0.118},{"l":52,"x":0.19,"y":0.219},{"l":52,"x":0.18,"y":0.319},{"l":52,"x":0.182,"y":0.395},{"l":52,"x":0.193,"y":0.44},{"l":52,"x":0.216,"y":0.483},
{"l":53,"x":0.186,"y":0.017},{"l":53,"x":0.177,"y":-0.071},{"l":53,"x":0.182,"y":-0.134},{"l":53,"x":0.216,"y":-0.26},
{"l":54,"x":0.203,"y":-0.008},{"l":54,"x":0.197,"y":-0.096},{"l":54,"x":0.203,"y":-0.159},{"l":54,"x":0.216,"y":-0.2},
{"l":55,"x":0.216,"y":0.42},{"l":55,"x":0.201,"y":0.357},{"l":55,"x":0.201,"y":0.269},{"l":55,"x":0.211,"y":0.181},{"l":55,"x":0.216,"y":0.143},
{"l":56,"x":0.216,"y":-0.115},{"l":56,"x":0.205,"y":-0.172},{"l":56,"x":0.209,"y":-0.235},{"l":56,"x":0.216,"y":-0.26}],
"blines":[
{"l":1,"x":-0.14,"y":0.9},{"l":1,"x":-0.07,"y":0.882},{"l":1,"x":0,"y":0.872},{"l":1,"x":0.07,"y":0.882},{"l":1,"x":0.14,"y":0.9},
{"l":2,"x":-0.2,"y":0.9},{"l":2,"x":-0.1,"y":0.855},{"l":2,"x":0,"y":0.835},{"l":2,"x":0.1,"y":0.855},{"l":2,"x":0.216,"y":0.905},
{"l":3,"x":-0.2,"y":0.872},{"l":3,"x":-0.1,"y":0.816},{"l":3,"x":0,"y":0.797},{"l":3,"x":0.1,"y":0.816},{"l":3,"x":0.216,"y":0.885},
{"l":4,"x":-0.2,"y":0.847},{"l":4,"x":-0.1,"y":0.78},{"l":4,"x":0,"y":0.759},{"l":4,"x":0.1,"y":0.78},{"l":4,"x":0.216,"y":0.86},
{"l":5,"x":-0.2,"y":0.822},{"l":5,"x":-0.1,"y":0.746},{"l":5,"x":0,"y":0.721},{"l":5,"x":0.1,"y":0.746},{"l":5,"x":0.216,"y":0.84},
{"l":6,"x":-0.2,"y":0.797},{"l":6,"x":-0.1,"y":0.712},{"l":6,"x":0,"y":0.684},{"l":6,"x":0.1,"y":0.712},{"l":6,"x":0.216,"y":0.825},
{"l":7,"x":-0.2,"y":0.778},{"l":7,"x":-0.1,"y":0.68},{"l":7,"x":0,"y":0.646},{"l":7,"x":0.1,"y":0.68},{"l":7,"x":0.216,"y":0.81},
{"l":8,"x":-0.2,"y":0.765},{"l":8,"x":-0.1,"y":0.64},{"l":8,"x":0,"y":0.602},{"l":8,"x":0.1,"y":0.64},{"l":8,"x":0.216,"y":0.795},
{"l":9,"x":-0.2,"y":0.753},{"l":9,"x":-0.1,"y":0.61},{"l":9,"x":0,"y":0.564},{"l":9,"x":0.1,"y":0.61},{"l":9,"x":0.216,"y":0.785},
{"l":10,"x":-0.2,"y":0.745},{"l":10,"x":-0.1,"y":0.575},{"l":10,"x":0,"y":0.52},{"l":10,"x":0.1,"y":0.575},{"l":10,"x":0.216,"y":0.778},
{"l":11,"x":-0.2,"y":-0.75},{"l":11,"x":-0.1,"y":-0.57},{"l":11,"x":0,"y":-0.505},{"l":11,"x":0.1,"y":-0.57},{"l":11,"x":0.216,"y":-0.78},
{"l":12,"x":-0.2,"y":-0.76},{"l":12,"x":-0.1,"y":-0.59},{"l":12,"x":0,"y":-0.536},{"l":12,"x":0.1,"y":-0.59},{"l":12,"x":0.216,"y":-0.79},
{"l":13,"x":-0.2,"y":-0.775},{"l":13,"x":-0.1,"y":-0.625},{"l":13,"x":0,"y":-0.574},{"l":13,"x":0.1,"y":-0.625},{"l":13,"x":0.216,"y":-0.805},
{"l":14,"x":-0.2,"y":-0.79},{"l":14,"x":-0.1,"y":-0.655},{"l":14,"x":0,"y":-0.606},{"l":14,"x":0.1,"y":-0.655},{"l":14,"x":0.216,"y":-0.82},
{"l":15,"x":-0.2,"y":-0.81},{"l":15,"x":-0.1,"y":-0.685},{"l":15,"x":0,"y":-0.643},{"l":15,"x":0.1,"y":-0.685},{"l":15,"x":0.216,"y":-0.835},
{"l":16,"x":-0.2,"y":-0.83},{"l":16,"x":-0.1,"y":-0.72},{"l":16,"x":0,"y":-0.681},{"l":16,"x":0.1,"y":-0.72},{"l":16,"x":0.216,"y":-0.85},
{"l":17,"x":-0.2,"y":-0.85},{"l":17,"x":-0.1,"y":-0.752},{"l":17,"x":0,"y":-0.719},{"l":17,"x":0.1,"y":-0.752},{"l":17,"x":0.216,"y":-0.865},
{"l":18,"x":-0.2,"y":-0.87},{"l":18,"x":-0.1,"y":-0.785},{"l":18,"x":0,"y":-0.757},{"l":18,"x":0.1,"y":-0.785},{"l":18,"x":0.216,"y":-0.885},
{"l":19,"x":-0.2,"y":-0.89},{"l":19,"x":-0.1,"y":-0.82},{"l":19,"x":0,"y":-0.794},{"l":19,"x":0.1,"y":-0.82},{"l":19,"x":0.216,"y":-0.9},
{"l":20,"x":-0.2,"y":-0.905},{"l":20,"x":-0.1,"y":-0.85},{"l":20,"x":0,"y":-0.832},{"l":20,"x":0.1,"y":-0.85},{"l":20,"x":0.216,"y":-0.915},
{"l":21,"x":-0.15,"y":-0.9},{"l":21,"x":-0.08,"y":-0.878},{"l":21,"x":0,"y":-0.864},{"l":21,"x":0.08,"y":-0.878},{"l":21,"x":0.15,"y":-0.9},
{"l":30,"x":-0.2,"y":0.74},{"l":30,"x":-0.1,"y":0.55},{"l":30,"x":-0.04,"y":0.43},{"l":30,"x":-0.015,"y":0.37},{"l":30,"x":-0.01,"y":0.25},{"l":30,"x":-0.01,"y":-0.25},{"l":30,"x":-0.015,"y":-0.37},{"l":30,"x":-0.04,"y":-0.445},{"l":30,"x":-0.1,"y":-0.554},{"l":30,"x":-0.2,"y":-0.738},
{"l":31,"x":-0.2,"y":0.7},{"l":31,"x":-0.1,"y":0.51},{"l":31,"x":-0.05,"y":0.41},{"l":31,"x":-0.03,"y":0.32},{"l":31,"x":-0.025,"y":0.2},{"l":31,"x":-0.025,"y":-0.2},{"l":31,"x":-0.03,"y":-0.32},{"l":31,"x":-0.05,"y":-0.41},{"l":31,"x":-0.1,"y":-0.51},{"l":31,"x":-0.2,"y":-0.7},
{"l":32,"x":-0.2,"y":0.66},{"l":32,"x":-0.1,"y":0.47},{"l":32,"x":-0.06,"y":0.37},{"l":32,"x":-0.045,"y":0.27},{"l":32,"x":-0.04,"y":0.15},{"l":32,"x":-0.04,"y":-0.15},{"l":32,"x":-0.045,"y":-0.27},{"l":32,"x":-0.06,"y":-0.37},{"l":32,"x":-0.1,"y":-0.47},{"l":32,"x":-0.2,"y":-0.66},
{"l":33,"x":-0.2,"y":0.62},{"l":33,"x":-0.1,"y":0.425},{"l":33,"x":-0.07,"y":0.33},{"l":33,"x":-0.058,"y":0.22},{"l":33,"x":-0.055,"y":0.1},{"l":33,"x":-0.055,"y":-0.1},{"l":33,"x":-0.058,"y":-0.22},{"l":33,"x":-0.07,"y":-0.33},{"l":33,"x":-0.1,"y":-0.425},{"l":33,"x":-0.2,"y":-0.62},
{"l":34,"x":-0.2,"y":0.58},{"l":34,"x":-0.12,"y":0.44},{"l":34,"x":-0.09,"y":0.32},{"l":34,"x":-0.075,"y":0.2},{"l":34,"x":-0.07,"y":0},{"l":34,"x":-0.075,"y":-0.2},{"l":34,"x":-0.09,"y":-0.32},{"l":34,"x":-0.12,"y":-0.44},{"l":34,"x":-0.2,"y":-0.58},
{"l":35,"x":-0.2,"y":0.54},{"l":35,"x":-0.125,"y":0.39},{"l":35,"x":-0.1,"y":0.28},{"l":35,"x":-0.088,"y":0.17},{"l":35,"x":-0.085,"y":0},{"l":35,"x":-0.088,"y":-0.17},{"l":35,"x":-0.1,"y":-0.28},{"l":35,"x":-0.125,"y":-0.39},{"l":35,"x":-0.2,"y":-0.54},
{"l":36,"x":-0.2,"y":0.5},{"l":36,"x":-0.14,"y":0.37},{"l":36,"x":-0.112,"y":0.25},{"l":36,"x":-0.102,"y":0.14},{"l":36,"x":-0.1,"y":0},{"l":36,"x":-0.102,"y":-0.14},{"l":36,"x":-0.112,"y":-0.25},{"l":36,"x":-0.14,"y":-0.37},{"l":36,"x":-0.2,"y":-0.5},
{"l":37,"x":-0.2,"y":0.46},{"l":37,"x":-0.15,"y":0.33},{"l":37,"x":-0.125,"y":0.22},{"l":37,"x":-0.117,"y":0.12},{"l":37,"x":-0.115,"y":0},{"l":37,"x":-0.117,"y":-0.12},{"l":37,"x":-0.125,"y":-0.22},{"l":37,"x":-0.15,"y":-0.33},{"l":37,"x":-0.2,"y":-0.46},
{"l":38,"x":-0.2,"y":0.42},{"l":38,"x":-0.16,"y":0.3},{"l":38,"x":-0.14,"y":0.2},{"l":38,"x":-0.13,"y":0},{"l":38,"x":-0.14,"y":-0.2},{"l":38,"x":-0.16,"y":-0.3},{"l":38,"x":-0.2,"y":-0.42},
{"l":39,"x":-0.2,"y":0.37},{"l":39,"x":-0.17,"y":0.27},{"l":39,"x":-0.15,"y":0.15},{"l":39,"x":-0.145,"y":0},{"l":39,"x":-0.15,"y":-0.15},{"l":39,"x":-0.17,"y":-0.27},{"l":39,"x":-0.2,"y":-0.37},
{"l":40,"x":-0.2,"y":0.32},{"l":40,"x":-0.175,"y":0.2},{"l":40,"x":-0.16,"y":0},{"l":40,"x":-0.175,"y":-0.2},{"l":40,"x":-0.2,"y":-0.32},
{"l":41,"x":-0.2,"y":0.25},{"l":41,"x":-0.18,"y":0.12},{"l":41,"x":-0.175,"y":0},{"l":41,"x":-0.18,"y":-0.12},{"l":41,"x":-0.2,"y":-0.25},
{"l":42,"x":-0.2,"y":0.14},{"l":42,"x":-0.19,"y":0},{"l":42,"x":-0.2,"y":-0.14},
{"l":50,"x":0.216,"y":0.77},{"l":50,"x":0.1,"y":0.55},{"l":50,"x":0.04,"y":0.43},{"l":50,"x":0.015,"y":0.37},{"l":50,"x":0.01,"y":0.25},{"l":50,"x":0.01,"y":-0.25},{"l":50,"x":0.015,"y":-0.37},{"l":50,"x":0.04,"y":-0.44},{"l":50,"x":0.1,"y":-0.56},{"l":50,"x":0.216,"y":-0.77},
{"l":51,"x":0.216,"y":0.73},{"l":51,"x":0.1,"y":0.51},{"l":51,"x":0.05,"y":0.41},{"l":51,"x":0.03,"y":0.32},{"l":51,"x":0.025,"y":0.2},{"l":51,"x":0.025,"y":-0.2},{"l":51,"x":0.03,"y":-0.32},{"l":51,"x":0.05,"y":-0.41},{"l":51,"x":0.1,"y":-0.51},{"l":51,"x":0.216,"y":-0.73},
{"l":52,"x":0.216,"y":0.69},{"l":52,"x":0.1,"y":0.47},{"l":52,"x":0.06,"y":0.37},{"l":52,"x":0.045,"y":0.27},{"l":52,"x":0.04,"y":0.15},{"l":52,"x":0.04,"y":-0.15},{"l":52,"x":0.045,"y":-0.27},{"l":52,"x":0.06,"y":-0.37},{"l":52,"x":0.1,"y":-0.47},{"l":52,"x":0.216,"y":-0.69},
{"l":53,"x":0.216,"y":0.65},{"l":53,"x":0.1,"y":0.425},{"l":53,"x":0.07,"y":0.33},{"l":53,"x":0.058,"y":0.22},{"l":53,"x":0.055,"y":0.1},{"l":53,"x":0.055,"y":-0.1},{"l":53,"x":0.058,"y":-0.22},{"l":53,"x":0.07,"y":-0.33},{"l":53,"x":0.1,"y":-0.425},{"l":53,"x":0.216,"y":-0.65},
{"l":54,"x":0.216,"y":0.61},{"l":54,"x":0.12,"y":0.44},{"l":54,"x":0.09,"y":0.32},{"l":54,"x":0.075,"y":0.2},{"l":54,"x":0.07,"y":0},{"l":54,"x":0.075,"y":-0.2},{"l":54,"x":0.09,"y":-0.32},{"l":54,"x":0.12,"y":-0.44},{"l":54,"x":0.216,"y":-0.61},
{"l":55,"x":0.216,"y":0.57},{"l":55,"x":0.125,"y":0.39},{"l":55,"x":0.1,"y":0.28},{"l":55,"x":0.088,"y":0.17},{"l":55,"x":0.085,"y":0},{"l":55,"x":0.088,"y":-0.17},{"l":55,"x":0.1,"y":-0.28},{"l":55,"x":0.125,"y":-0.39},{"l":55,"x":0.216,"y":-0.57},
{"l":56,"x":0.216,"y":0.53},{"l":56,"x":0.14,"y":0.37},{"l":56,"x":0.112,"y":0.25},{"l":56,"x":0.102,"y":0.14},{"l":56,"x":0.1,"y":0},{"l":56,"x":0.102,"y":-0.14},{"l":56,"x":0.112,"y":-0.25},{"l":56,"x":0.14,"y":-0.37},{"l":56,"x":0.216,"y":-0.53},
{"l":57,"x":0.216,"y":0.49},{"l":57,"x":0.15,"y":0.33},{"l":57,"x":0.125,"y":0.22},{"l":57,"x":0.117,"y":0.12},{"l":57,"x":0.115,"y":0},{"l":57,"x":0.117,"y":-0.12},{"l":57,"x":0.125,"y":-0.22},{"l":57,"x":0.15,"y":-0.33},{"l":57,"x":0.216,"y":-0.49},
{"l":58,"x":0.216,"y":0.45},{"l":58,"x":0.16,"y":0.3},{"l":58,"x":0.14,"y":0.2},{"l":58,"x":0.13,"y":0},{"l":58,"x":0.14,"y":-0.2},{"l":58,"x":0.16,"y":-0.3},{"l":58,"x":0.216,"y":-0.45},
{"l":59,"x":0.216,"y":0.41},{"l":59,"x":0.17,"y":0.27},{"l":59,"x":0.15,"y":0.15},{"l":59,"x":0.145,"y":0},{"l":59,"x":0.15,"y":-0.15},{"l":59,"x":0.17,"y":-0.27},{"l":59,"x":0.216,"y":-0.41},
{"l":60,"x":0.216,"y":0.36},{"l":60,"x":0.175,"y":0.2},{"l":60,"x":0.16,"y":0},{"l":60,"x":0.175,"y":-0.2},{"l":60,"x":0.216,"y":-0.36},
{"l":61,"x":0.216,"y":0.3},{"l":61,"x":0.18,"y":0.12},{"l":61,"x":0.175,"y":0},{"l":61,"x":0.18,"y":-0.12},{"l":61,"x":0.216,"y":-0.3},
{"l":62,"x":0.216,"y":0.22},{"l":62,"x":0.192,"y":0.08},{"l":62,"x":0.19,"y":0},{"l":62,"x":0.192,"y":-0.08},{"l":62,"x":0.216,"y":-0.22},
{"l":63,"x":0.216,"y":0.1},{"l":63,"x":0.205,"y":0},{"l":63,"x":0.216,"y":-0.1}]
},
"hconcat":[
{"spacing":17,"hconcat":[
{"width":327,"height":477,"title":{"text":"(a)  E·J with turbulence","fontSize":17,"fontWeight":"normal","color":"#333333","dx":-14,"offset":6},
"encoding":{"x":{"field":"x","type":"quantitative","title":"X","scale":{"domain":[-0.2,0.216],"nice":false,"zero":false},"axis":{"values":[-0.2,-0.1,0,0.1,0.2],"labelExpr":"''+round(datum.value*10)/10","ticks":false,"domain":false,"grid":false,"labelFontSize":16,"labelColor":"#444444","labelPadding":8,"titleFontSize":25,"titleFontWeight":"normal","titleColor":"#333333","titlePadding":12}},"y":{"field":"y","type":"quantitative","title":"Y","scale":{"domain":[-0.9,0.9],"nice":false,"zero":false},"axis":{"values":[-0.8,-0.6,-0.4,-0.2,0,0.2,0.4,0.6,0.8],"labelExpr":"''+round(datum.value*10)/10","ticks":false,"domain":false,"grid":false,"labelFontSize":16,"labelColor":"#444444","labelPadding":8,"titleFontSize":25,"titleFontWeight":"normal","titleColor":"#333333","titlePadding":14}}},
"layer":[
{"data":{"name":"abg"},"mark":{"type":"rect","clip":true},"encoding":{"x2":{"field":"x2"},"y2":{"field":"y2"},"color":{"field":"v","type":"quantitative","scale":{"domain":[-10,-6.25,1.25,8.75,16.25,20],"range":["#00007f","#0000ff","#00ffff","#ffff00","#ff0000","#7f0000"],"interpolate":"rgb"},"legend":null}}},
{"data":{"name":"aglow"},"transform":[{"window":[{"op":"row_number","as":"i"}]},{"filter":"datum.w==12"}],"mark":{"type":"line","clip":true,"interpolate":"catmull-rom","strokeCap":"round","strokeWidth":24,"opacity":0.5},"encoding":{"detail":{"field":"s"},"order":{"field":"i"},"color":{"field":"v","type":"quantitative","legend":null}}},
{"data":{"name":"aglow"},"transform":[{"window":[{"op":"row_number","as":"i"}]},{"filter":"datum.w==11"}],"mark":{"type":"line","clip":true,"interpolate":"catmull-rom","strokeCap":"round","strokeWidth":18,"opacity":0.5},"encoding":{"detail":{"field":"s"},"order":{"field":"i"},"color":{"field":"v","type":"quantitative","legend":null}}},
{"data":{"name":"aglow"},"transform":[{"window":[{"op":"row_number","as":"i"}]},{"filter":"datum.w==8"}],"mark":{"type":"line","clip":true,"interpolate":"catmull-rom","strokeCap":"round","strokeWidth":12,"opacity":0.85},"encoding":{"detail":{"field":"s"},"order":{"field":"i"},"color":{"field":"v","type":"quantitative","legend":null}}},
{"data":{"name":"aglow"},"transform":[{"window":[{"op":"row_number","as":"i"}]},{"filter":"datum.w==7"}],"mark":{"type":"line","clip":true,"interpolate":"catmull-rom","strokeCap":"round","strokeWidth":10,"opacity":0.85},"encoding":{"detail":{"field":"s"},"order":{"field":"i"},"color":{"field":"v","type":"quantitative","legend":null}}},
{"data":{"name":"aglow"},"transform":[{"window":[{"op":"row_number","as":"i"}]},{"filter":"datum.w==6"}],"mark":{"type":"line","clip":true,"interpolate":"catmull-rom","strokeCap":"round","strokeWidth":8,"opacity":0.85},"encoding":{"detail":{"field":"s"},"order":{"field":"i"},"color":{"field":"v","type":"quantitative","legend":null}}},
{"data":{"name":"aglow"},"transform":[{"window":[{"op":"row_number","as":"i"}]},{"filter":"datum.w==5"}],"mark":{"type":"line","clip":true,"interpolate":"catmull-rom","strokeCap":"round","strokeWidth":6.5,"opacity":0.9},"encoding":{"detail":{"field":"s"},"order":{"field":"i"},"color":{"field":"v","type":"quantitative","legend":null}}},
{"data":{"name":"aglow"},"transform":[{"window":[{"op":"row_number","as":"i"}]},{"filter":"datum.w==4"}],"mark":{"type":"line","clip":true,"interpolate":"catmull-rom","strokeCap":"round","strokeWidth":5,"opacity":0.9},"encoding":{"detail":{"field":"s"},"order":{"field":"i"},"color":{"field":"v","type":"quantitative","legend":null}}},
{"data":{"name":"aglow"},"transform":[{"window":[{"op":"row_number","as":"i"}]},{"filter":"datum.w==3"}],"mark":{"type":"line","clip":true,"interpolate":"catmull-rom","strokeCap":"round","strokeWidth":3.5},"encoding":{"detail":{"field":"s"},"order":{"field":"i"},"color":{"field":"v","type":"quantitative","legend":null}}},
{"data":{"name":"aglow"},"transform":[{"window":[{"op":"row_number","as":"i"}]},{"filter":"datum.w==2"}],"mark":{"type":"line","clip":true,"interpolate":"catmull-rom","strokeCap":"round","strokeWidth":2.5},"encoding":{"detail":{"field":"s"},"order":{"field":"i"},"color":{"field":"v","type":"quantitative","legend":null}}},
{"data":{"name":"aglow"},"transform":[{"window":[{"op":"row_number","as":"i"}]},{"filter":"datum.w==1"}],"mark":{"type":"line","clip":true,"interpolate":"catmull-rom","strokeCap":"round","strokeWidth":1.5},"encoding":{"detail":{"field":"s"},"order":{"field":"i"},"color":{"field":"v","type":"quantitative","legend":null}}},
{"data":{"name":"alines"},"transform":[{"window":[{"op":"row_number","as":"i"}]}],"mark":{"type":"line","clip":true,"interpolate":"catmull-rom","color":"#15282e","strokeWidth":1.4},"encoding":{"detail":{"field":"l"},"order":{"field":"i"}}},
{"data":{"name":"boxes"},"transform":[{"filter":"datum.c=='red'"}],"mark":{"type":"rect","fillOpacity":0,"stroke":"#b8433c","strokeWidth":2,"clip":true},"encoding":{"x2":{"field":"x2"},"y2":{"field":"y2"}}},
{"data":{"name":"boxes"},"transform":[{"filter":"datum.c=='yellow'"}],"mark":{"type":"rect","fillOpacity":0,"stroke":"#d9dc4a","strokeWidth":2,"clip":true},"encoding":{"x2":{"field":"x2"},"y2":{"field":"y2"}}}
]},
{"width":29,"height":477,"title":{"text":"E·J","fontSize":13,"fontWeight":"normal","color":"#333333","anchor":"start","offset":2},"data":{"values":[{"a":-10,"b":20}]},"mark":{"type":"rect","stroke":"#555555","strokeWidth":0.5,"fill":{"gradient":"linear","x1":0,"y1":1,"x2":0,"y2":0,"stops":[{"offset":0,"color":"#00007f"},{"offset":0.125,"color":"#0000ff"},{"offset":0.375,"color":"#00ffff"},{"offset":0.625,"color":"#ffff00"},{"offset":0.875,"color":"#ff0000"},{"offset":1,"color":"#7f0000"}]}},"encoding":{"y":{"field":"a","type":"quantitative","scale":{"domain":[-10,20],"nice":false,"zero":false},"axis":{"orient":"right","title":null,"values":[-10,-5,0,5,10,15,20],"labelExpr":"''+datum.value","ticks":false,"domain":false,"grid":false,"labelFontSize":16,"labelColor":"#444444","labelPadding":7}},"y2":{"field":"b"}}}
]},
{"spacing":14,"hconcat":[
{"width":327,"height":477,"title":{"text":"(b)  E·J without turbulence","fontSize":17,"fontWeight":"normal","color":"#333333","dx":12,"offset":6},
"encoding":{"x":{"field":"x","type":"quantitative","title":"X","scale":{"domain":[-0.2,0.216],"nice":false,"zero":false},"axis":{"values":[-0.2,-0.1,0,0.1,0.2],"labelExpr":"''+round(datum.value*10)/10","ticks":false,"domain":false,"grid":false,"labelFontSize":16,"labelColor":"#444444","labelPadding":8,"titleFontSize":25,"titleFontWeight":"normal","titleColor":"#333333","titlePadding":12}},"y":{"field":"y","type":"quantitative","title":"Y","scale":{"domain":[-0.9,0.9],"nice":false,"zero":false},"axis":{"values":[-0.8,-0.6,-0.4,-0.2,0,0.2,0.4,0.6,0.8],"labelExpr":"''+round(datum.value*10)/10","ticks":false,"domain":false,"grid":false,"labelFontSize":16,"labelColor":"#444444","labelPadding":8,"titleFontSize":25,"titleFontWeight":"normal","titleColor":"#333333","titlePadding":14}}},
"layer":[
{"data":{"name":"bbg"},"mark":{"type":"rect","clip":true},"encoding":{"x2":{"field":"x2"},"y2":{"field":"y2"},"color":{"field":"v","type":"quantitative","scale":{"domain":[0,0.1,0.3,0.5,0.7,0.8],"range":["#00007f","#0000ff","#00ffff","#ffff00","#ff0000","#7f0000"],"interpolate":"rgb"},"legend":null}}},
{"data":{"name":"bareas"},"mark":{"type":"area","clip":true,"interpolate":"monotone"},"encoding":{"detail":{"field":"r"},"y2":{"field":"y2"},"color":{"field":"v","type":"quantitative","legend":null}}},
{"data":{"name":"bglow"},"transform":[{"window":[{"op":"row_number","as":"i"}]},{"filter":"datum.w==11"}],"mark":{"type":"line","clip":true,"interpolate":"catmull-rom","strokeCap":"round","strokeWidth":18},"encoding":{"detail":{"field":"s"},"order":{"field":"i"},"color":{"field":"v","type":"quantitative","legend":null}}},
{"data":{"name":"bglow"},"transform":[{"window":[{"op":"row_number","as":"i"}]},{"filter":"datum.w==9"}],"mark":{"type":"line","clip":true,"interpolate":"catmull-rom","strokeCap":"round","strokeWidth":14},"encoding":{"detail":{"field":"s"},"order":{"field":"i"},"color":{"field":"v","type":"quantitative","legend":null}}},
{"data":{"name":"bglow"},"transform":[{"window":[{"op":"row_number","as":"i"}]},{"filter":"datum.w==8"}],"mark":{"type":"line","clip":true,"interpolate":"catmull-rom","strokeCap":"round","strokeWidth":12},"encoding":{"detail":{"field":"s"},"order":{"field":"i"},"color":{"field":"v","type":"quantitative","legend":null}}},
{"data":{"name":"bglow"},"transform":[{"window":[{"op":"row_number","as":"i"}]},{"filter":"datum.w==5"}],"mark":{"type":"line","clip":true,"interpolate":"catmull-rom","strokeCap":"round","strokeWidth":8},"encoding":{"detail":{"field":"s"},"order":{"field":"i"},"color":{"field":"v","type":"quantitative","legend":null}}},
{"data":{"name":"bglow"},"transform":[{"window":[{"op":"row_number","as":"i"}]},{"filter":"datum.w==7"}],"mark":{"type":"line","clip":true,"interpolate":"catmull-rom","strokeCap":"round","strokeWidth":10,"opacity":0.85},"encoding":{"detail":{"field":"s"},"order":{"field":"i"},"color":{"field":"v","type":"quantitative","legend":null}}},
{"data":{"name":"bglow"},"transform":[{"window":[{"op":"row_number","as":"i"}]},{"filter":"datum.w==6"}],"mark":{"type":"line","clip":true,"interpolate":"catmull-rom","strokeCap":"round","strokeWidth":8},"encoding":{"detail":{"field":"s"},"order":{"field":"i"},"color":{"field":"v","type":"quantitative","legend":null}}},
{"data":{"name":"bglow"},"transform":[{"window":[{"op":"row_number","as":"i"}]},{"filter":"datum.w==3"}],"mark":{"type":"line","clip":true,"interpolate":"catmull-rom","strokeCap":"round","strokeWidth":4.5},"encoding":{"detail":{"field":"s"},"order":{"field":"i"},"color":{"field":"v","type":"quantitative","legend":null}}},
{"data":{"name":"bglow"},"transform":[{"window":[{"op":"row_number","as":"i"}]},{"filter":"datum.w==2"}],"mark":{"type":"line","clip":true,"interpolate":"catmull-rom","strokeCap":"round","strokeWidth":3},"encoding":{"detail":{"field":"s"},"order":{"field":"i"},"color":{"field":"v","type":"quantitative","legend":null}}},
{"data":{"name":"blines"},"transform":[{"window":[{"op":"row_number","as":"i"}]}],"mark":{"type":"line","clip":true,"interpolate":"catmull-rom","color":"#000000","strokeWidth":1.3,"opacity":0.7},"encoding":{"detail":{"field":"l"},"order":{"field":"i"}}}
]},
{"width":29,"height":477,"title":{"text":"E·J","fontSize":13,"fontWeight":"normal","color":"#333333","anchor":"start","offset":2},"data":{"values":[{"a":0,"b":0.8}]},"mark":{"type":"rect","stroke":"#555555","strokeWidth":0.5,"fill":{"gradient":"linear","x1":0,"y1":1,"x2":0,"y2":0,"stops":[{"offset":0,"color":"#00007f"},{"offset":0.125,"color":"#0000ff"},{"offset":0.375,"color":"#00ffff"},{"offset":0.625,"color":"#ffff00"},{"offset":0.875,"color":"#ff0000"},{"offset":1,"color":"#7f0000"}]}},"encoding":{"y":{"field":"a","type":"quantitative","scale":{"domain":[0,0.8],"nice":false,"zero":false},"axis":{"orient":"right","title":null,"values":[0,0.1,0.2,0.3,0.4,0.5,0.6,0.7,0.8],"labelExpr":"''+datum.value","ticks":false,"domain":false,"grid":false,"labelFontSize":16,"labelColor":"#444444","labelPadding":7}},"y2":{"field":"b"}}}
]}
]}
